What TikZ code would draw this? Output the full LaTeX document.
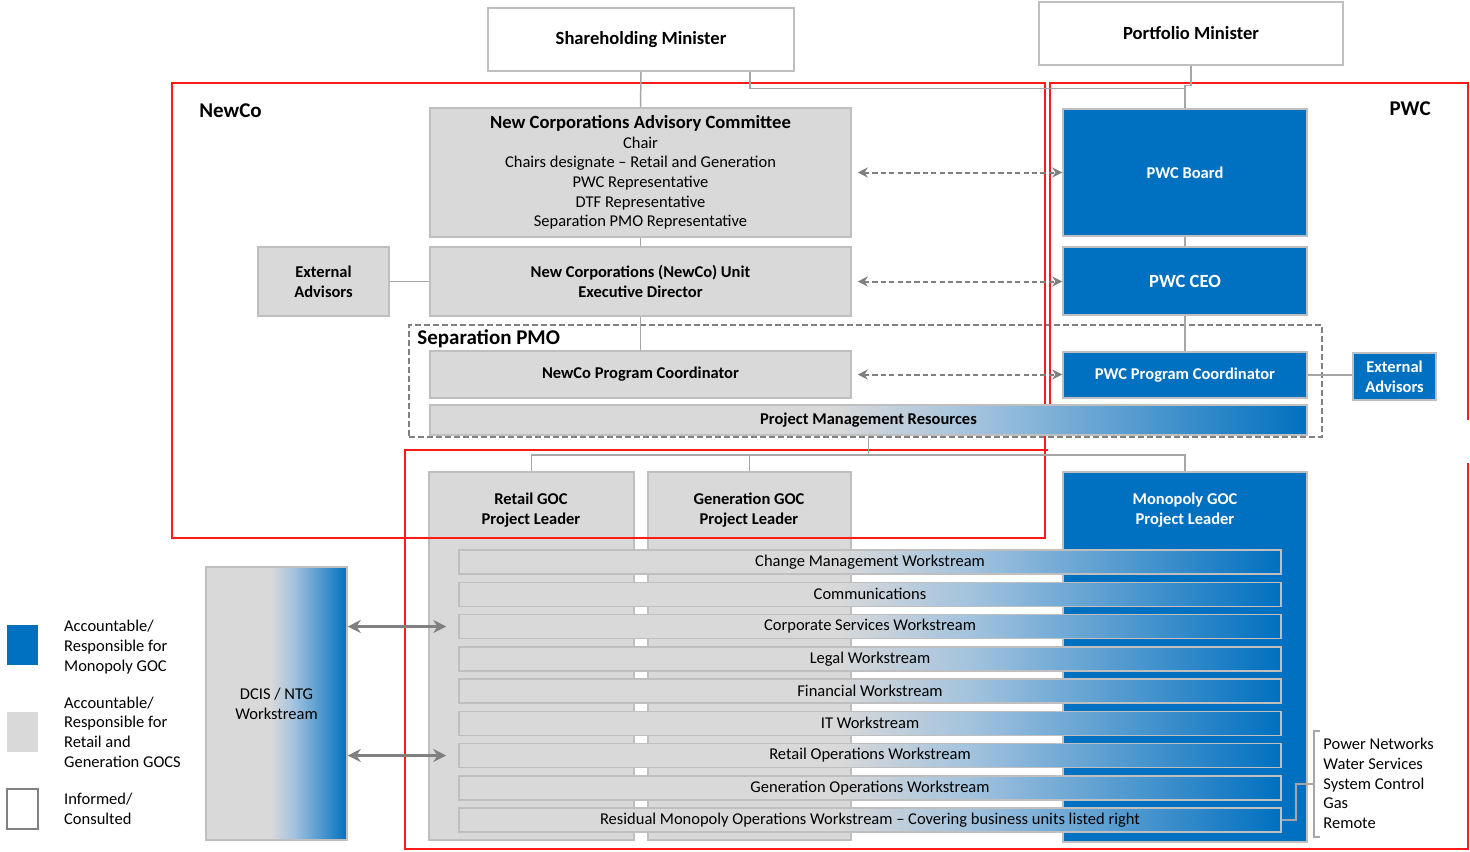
\documentclass[tikz,border=0pt]{standalone}
\usepackage{fontspec}
\setmainfont{Carlito}
\usetikzlibrary{arrows.meta,calc}
\definecolor{pwcblue}{HTML}{0070C0}
\definecolor{paleblue}{HTML}{A3C3DE}
\definecolor{boxgray}{HTML}{D9D9D9}
\definecolor{edge}{HTML}{BFBFBF}
\definecolor{wiregray}{HTML}{A6A6A6}
\definecolor{arrowgray}{HTML}{808080}
\definecolor{framered}{HTML}{FF1A1A}
\newcommand{\wsfont}{\fontsize{8.25}{9.85}\selectfont}
\newcommand{\hdfont}{\fontsize{9.3}{11}\selectfont\bfseries}
\newcommand{\tagfont}{\fontsize{10.5}{12.6}\selectfont\bfseries}
% grey on the left half, fading into PWC blue on the right
\pgfdeclarehorizontalshading{grayblue}{100bp}{color(0bp)=(boxgray); color(25bp)=(boxgray); color(48bp)=(boxgray); color(56bp)=(paleblue); color(75bp)=(pwcblue); color(100bp)=(pwcblue)}

\begin{document}
\begin{tikzpicture}[x=0.5pt,y=-0.5pt,font=\wsfont,
  % area=left/top/right/bottom, in pixel units of the grid
  area/.style args={#1/#2/#3/#4}{minimum width={(#3-#1)*0.5pt},minimum height={(#4-#2)*0.5pt},
    at={({(#1+#3)/2},{(#2+#4)/2})}},
  box/.style={inner sep=0,align=center,line width=0.75pt,draw=edge},
  whitebox/.style={box,fill=white,font=\hdfont},
  graybox/.style={box,fill=boxgray},
  bluebox/.style={box,fill=pwcblue,text=white,font=\wsfont\bfseries},
  wsbar/.style={box,shade,shading=grayblue},
  wire/.style={wiregray,line width=0.75pt},
  tie/.style={arrowgray,line width=1pt,dash pattern=on 2.6pt off 1.6pt,
    {Stealth[length=5pt,width=5pt]}-{Stealth[length=5pt,width=5pt]},shorten <=3pt},
  link/.style={arrowgray,line width=1.5pt,
    {Stealth[length=6.5pt,width=6.5pt]}-{Stealth[length=6.5pt,width=6.5pt]}},
  frame/.style={framered,line width=1pt},
  tag/.style={font=\tagfont,inner sep=0},
  keytext/.style={anchor=west,align=left,inner sep=0}]
\useasboundingbox (0,0) rectangle (1470,851);

% ministers
\node[whitebox,area=488/8/794/71] (share) {Shareholding Minister};
\node[whitebox,area=1039/2/1343/65] (port) {Portfolio Minister};

% NewCo side
\node[graybox,area=430/108/851/237] (ncac) {{\hdfont New Corporations Advisory Committee}\\Chair\\Chairs designate – Retail and Generation\\PWC Representative\\DTF Representative\\Separation PMO Representative};
\node[graybox,area=430/247/851/316,font=\wsfont\bfseries] (unit) {New Corporations (NewCo) Unit\\Executive Director};
\node[graybox,area=258/247/389/316,font=\wsfont\bfseries] (newadv) {External\\Advisors};

% PWC side
\node[bluebox,area=1063/109/1307/236] (board) {PWC Board};
\node[bluebox,area=1063/247/1307/315,font=\hdfont] (ceo) {PWC CEO};
\node[bluebox,area=1063/352/1307/398] (ppc) {PWC Program Coordinator};
\node[bluebox,area=1353/353/1436/400] (pwcadv) {External\\Advisors};

% separation PMO
\node[box,draw=arrowgray,dash pattern=on 3pt off 1.5pt,area=409/325/1322/437] (pmo) {};
\node[tag,anchor=west] (pmotag) at (417,339) {Separation PMO};
\node[graybox,area=430/351/851/398,font=\wsfont\bfseries] (npc) {NewCo Program Coordinator};

% project leaders
\node[graybox,area=429/472/634/840] (retail) {};
\node[graybox,area=648/472/851/840] (gen) {};
\node[bluebox,area=1063/472/1307/842] (mono) {};
\node[font=\wsfont\bfseries,align=center,inner sep=0] (retailtxt) at (531,510) {Retail GOC\\Project Leader};
\node[font=\wsfont\bfseries,align=center,inner sep=0] (gentxt) at (749,510) {Generation GOC\\Project Leader};
\node[font=\wsfont\bfseries,text=white,align=center,inner sep=0] (monotxt) at (1185,510) {Monopoly GOC\\Project Leader};

% workstreams
\foreach \name [count=\i,evaluate=\i as \wtop using {550+32.25*(\i-1)}] in {Change Management Workstream,Communications,Corporate Services Workstream,Legal Workstream,Financial Workstream,IT Workstream,Retail Operations Workstream,Generation Operations Workstream,Residual Monopoly Operations Workstream – Covering business units listed right}
  \node[wsbar,area=459/\wtop/1281/\wtop+24] (ws\i) {\name};

\node[wsbar,area=206/567/347/840] (dcis) {DCIS / NTG\\Workstream};

% boundaries
\draw[frame] (172,83) rectangle (1045,538);
\draw[frame] (1050,420) -- (1050,83) -- (1468,83) -- (1468,420);
\draw[frame] (1048,450) -- (405,450) -- (405,849) -- (1468,849) -- (1468,463);
\node[tag,anchor=west] (newcotag) at (199,111) {NewCo};
\node[tag,anchor=east] (pwctag) at (1431,109) {PWC};

\node[wsbar,area=430/405/1307/435,font=\wsfont\bfseries] (pmr) {Project Management Resources};

% reporting lines
\draw[wire] (share.south) -- (ncac.north);
\draw[wire] ([xshift=-22.5pt]share.south east) |- ([yshift=10pt]board.north);
\draw[wire] (port.south) |- ([yshift=11.5pt]board.north) -- (board.north);
\draw[wire] (ncac.south) -- (unit.north);
\draw[wire] (unit.south) -- (npc.north);
\draw[wire] (newadv.east) -- (unit.west);
\draw[wire] (board.south) -- (ceo.north);
\draw[wire] (ceo.south) -- (ppc.north);
\draw[wire] (ppc.east) -- (ppc.east -| pwcadv.west);
\draw[wire] (retail.north) |- (mono.north |- 0,455) -- (mono.north);
\draw[wire] (gen.north) -- (gen.north |- 0,455);
\draw[wire] (pmr.south) -- (pmr.south |- 0,455);

% NewCo <-> PWC
\draw[tie] (ncac.east) -- (board.west);
\draw[tie] (unit.east) -- (unit.east -| ceo.west);
\draw[tie] (npc.east) -- (npc.east -| ppc.west);

% DCIS links
\draw[link] (dcis.east |- ws3.west) -- ([xshift=-6pt]ws3.west);
\draw[link] (dcis.east |- ws7.west) -- ([xshift=-6pt]ws7.west);

% business units under the residual workstream
\node[keytext] (units) at (1323,783.5) {Power Networks\\Water Services\\System Control\\Gas\\Remote};
\coordinate (brtop) at (1314,731);
\coordinate (brbot) at (1314,837);
\draw[wire] ([xshift=3pt]brtop) -- (brtop) -- (brbot) -- ([xshift=3pt]brbot);
\draw[wire] (ws9.east) -- ++(14,0) |- ($(brtop)!0.5!(brbot)$);

% key
\node[box,draw=none,fill=pwcblue,area=7/625/38/665] (keymono) {};
\node[box,draw=none,fill=boxgray,area=7/712/38/752] (keygoc) {};
\node[box,draw=arrowgray,fill=white,area=7/789/38/829] (keyinfo) {};
\node[keytext] (keymonotxt) at ([xshift=12.5pt,yshift=-1pt]keymono.east) {Accountable/\\Responsible for\\Monopoly GOC};
\node[keytext] (keygoctxt) at ([xshift=12.5pt]keygoc.east) {Accountable/\\Responsible for\\Retail and\\Generation GOCS};
\node[keytext] (keyinfotxt) at ([xshift=12.5pt]keyinfo.east) {Informed/\\Consulted};
\end{tikzpicture}
\end{document}
